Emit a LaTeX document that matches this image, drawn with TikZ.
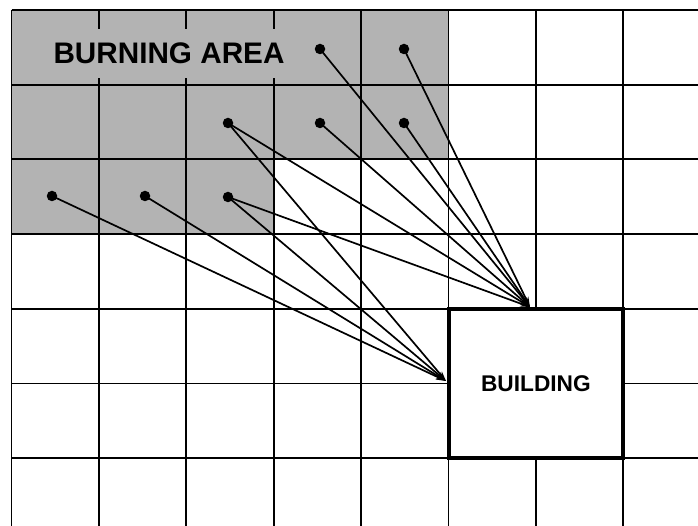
\documentclass[tikz,border=0pt]{standalone}
\usepackage{fontspec}
\setmainfont{Liberation Sans}
\usetikzlibrary{arrows.meta}
\definecolor{burn}{RGB}{179,179,179}
\tikzset{
  gridline/.style={line width=1.9pt, black},
  ember/.style={circle, fill=black, inner sep=0pt, minimum size=10.5pt},
  spread/.style={line width=1.7pt, -{Stealth[length=10pt,width=6pt]}},
  house/.style={draw=black, fill=white, line width=4pt, inner sep=0pt,
    outer sep=0pt, font=\bfseries\fontsize{22.7}{22.7}\selectfont},
  zonelabel/.style={fill=burn, inner sep=0pt, minimum height=49pt,
    minimum width=250pt, font=\bfseries\fontsize{29.7}{29.7}\selectfont}
}
\begin{document}
\begin{tikzpicture}[x=1pt, y=-1pt]
  \useasboundingbox (0,0) rectangle (698,526);
  % burning cells
  \fill[burn] (11.5,10) rectangle (448.5,159.4);
  \fill[burn] (11.5,159.4) rectangle (273.7,234.1);
  % grid
  \foreach \x in {11.5,98.9,186.3,273.7,361.1,448.5,535.9,623.3}
    \draw[gridline] (\x,10) -- (\x,526);
  \foreach \y in {10,84.7,159.4,234.1,308.8,383.5,458.2}
    \draw[gridline] (11.5,\y) -- (698,\y);
  % labels
  \node[zonelabel] (zone) at (169,53.5) {BURNING AREA};
  \node[house, minimum width=174.8pt, minimum height=149.4pt, anchor=north west]
    (bld) at (448.5,308.8) {BUILDING};
  \coordinate (roof) at (530,307);
  \coordinate (wall) at (446,381);
  % burning points
  \node[ember] (a1) at (320,49) {};
  \node[ember] (a2) at (404,49) {};
  \node[ember] (b1) at (228,123) {};
  \node[ember] (b2) at (320,123) {};
  \node[ember] (b3) at (404,123) {};
  \node[ember] (c1) at (52,196) {};
  \node[ember] (c2) at (145,196) {};
  \node[ember] (c3) at (228,197) {};
  % radiation paths
  \foreach \s in {a1,a2,b1,b2,b3,c3}
    \draw[spread] (\s.center) -- (roof);
  \foreach \s in {c1,c2,c3,b1}
    \draw[spread] (\s.center) -- (wall);
\end{tikzpicture}
\end{document}
